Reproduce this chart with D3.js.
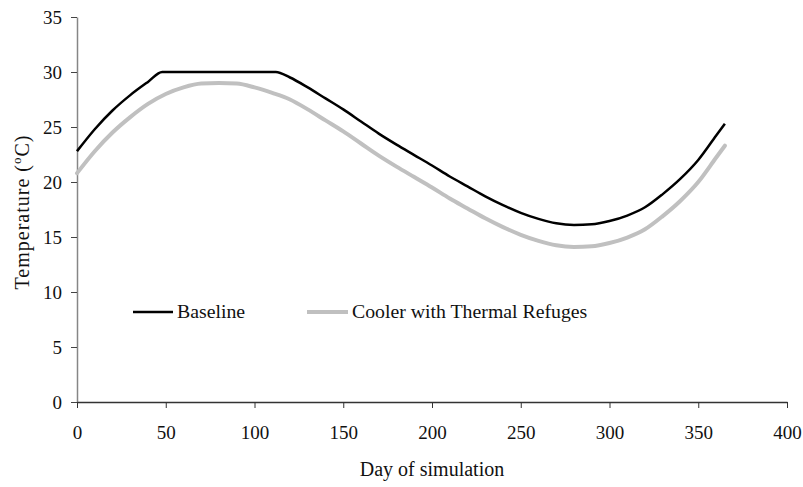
<!DOCTYPE html>
<html>
<head>
<meta charset="utf-8">
<script src="https://cdn.jsdelivr.net/npm/d3@7"></script>
<style>
  body { margin: 0; background: #fff; }
  text { font-family: 'Liberation Serif', 'Times New Roman', serif; }
</style>
</head>
<body>
<div id="chart"></div>
<script>
// values
const baselineDays = [0, 10, 20, 30, 40, 48, 60, 70, 80, 90, 100, 112, 120, 130, 140, 150, 160, 170, 180, 190, 200, 210, 220, 230, 240, 250, 260, 270, 280, 290, 300, 310, 320, 330, 340, 350, 360, 365];
const baselineTemps = [22.8, 24.8, 26.5, 27.9, 29.1, 30, 30, 30, 30, 30, 30, 30, 29.5, 28.6, 27.6, 26.6, 25.5, 24.4, 23.4, 22.45, 21.5, 20.5, 19.6, 18.7, 17.9, 17.2, 16.65, 16.25, 16.1, 16.15, 16.45, 16.95, 17.7, 18.9, 20.3, 22.0, 24.2, 25.3];

const coolerDays = [0, 10, 20, 30, 40, 50, 60, 70, 80, 90, 100, 110, 120, 130, 140, 150, 160, 170, 180, 190, 200, 210, 220, 230, 240, 250, 260, 270, 280, 290, 300, 310, 320, 330, 340, 350, 360, 365];
const coolerTemps = [20.8, 22.8, 24.5, 25.9, 27.1, 28.0, 28.6, 28.95, 29.0, 28.95, 28.6, 28.1, 27.5, 26.6, 25.6, 24.6, 23.5, 22.4, 21.4, 20.45, 19.5, 18.5, 17.6, 16.7, 15.9, 15.2, 14.65, 14.25, 14.1, 14.15, 14.45, 14.95, 15.7, 16.9, 18.3, 20.0, 22.2, 23.3];

const xTicks = [0, 50, 100, 150, 200, 250, 300, 350, 400];
const yTicks = [0, 5, 10, 15, 20, 25, 30, 35];

const seriesNames = ['Baseline', 'Cooler with Thermal Refuges'];

const width = 803, height = 487;
const margin = { top: 17, right: 16, bottom: 85, left: 77 };

const svg = d3.select('#chart')
  .append('svg')
  .attr('width', width)
  .attr('height', height);

const x = d3.scaleLinear().domain([0, 400]).range([margin.left, width - margin.right]);
const y = d3.scaleLinear().domain([0, 35]).range([height - margin.bottom, margin.top]);

// y axis
const yAxis = svg.append('g')
  .attr('transform', `translate(${margin.left},0)`)
  .call(d3.axisLeft(y).tickValues(yTicks).tickSize(6).tickPadding(9).tickSizeOuter(0));
yAxis.select('.domain').attr('stroke', '#868686').attr('stroke-width', 1.5);
yAxis.selectAll('.tick line').attr('stroke', '#444');
yAxis.selectAll('text').attr('font-size', 19).attr('fill', '#111')
  .attr('font-family', "'Liberation Serif', serif");

// x axis
const xAxis = svg.append('g')
  .attr('transform', `translate(0,${y(0)})`)
  .call(d3.axisBottom(x).tickValues(xTicks).tickSize(6).tickPadding(18).tickSizeOuter(0));
xAxis.select('.domain').attr('stroke', '#333').attr('stroke-width', 1.3);
xAxis.selectAll('.tick line').attr('stroke', '#333');
xAxis.selectAll('text').attr('font-size', 19).attr('fill', '#111')
  .attr('font-family', "'Liberation Serif', serif");

const line = d3.line()
  .x(d => x(d[0]))
  .y(d => y(d[1]))
  .curve(d3.curveMonotoneX);

const coolerData = coolerDays.map((d, i) => [d, coolerTemps[i]]);
const baselineData = baselineDays.map((d, i) => [d, baselineTemps[i]]);

svg.append('path')
  .datum(coolerData)
  .attr('d', line)
  .attr('fill', 'none')
  .attr('stroke', '#c0c0c0')
  .attr('stroke-width', 4)
  .attr('stroke-linecap', 'round');

svg.append('path')
  .datum(baselineData)
  .attr('d', line)
  .attr('fill', 'none')
  .attr('stroke', '#000')
  .attr('stroke-width', 2.5);

// legend
const legendItems = [
  { name: seriesNames[0], x0: 133, x1: 173, color: '#000', w: 2.5 },
  { name: seriesNames[1], x0: 307, x1: 348, color: '#c0c0c0', w: 4 }
];
const legendY = 312;
const legend = svg.append('g');
legendItems.forEach(it => {
  legend.append('line')
    .attr('x1', it.x0).attr('x2', it.x1)
    .attr('y1', legendY).attr('y2', legendY)
    .attr('stroke', it.color).attr('stroke-width', it.w);
  legend.append('text')
    .attr('x', it.x1 + 4).attr('y', legendY + 6)
    .attr('font-size', 19.8)
    .attr('fill', '#111')
    .text(it.name);
});

// axis titles
svg.append('text')
  .attr('x', (x(0) + x(400)) / 2)
  .attr('y', 476)
  .attr('text-anchor', 'middle')
  .attr('font-size', 20)
  .attr('fill', '#111')
  .text('Day of simulation');

const yTitle = svg.append('text')
  .attr('transform', 'translate(29,212) rotate(-90)')
  .attr('text-anchor', 'middle')
  .attr('font-size', 20)
  .attr('letter-spacing', 1)
  .attr('fill', '#111');
yTitle.append('tspan').text('Temperature (');
yTitle.append('tspan').attr('font-size', 13).attr('dy', -8).text('o');
yTitle.append('tspan').attr('dy', 8).text('C)');
</script>
</body>
</html>
